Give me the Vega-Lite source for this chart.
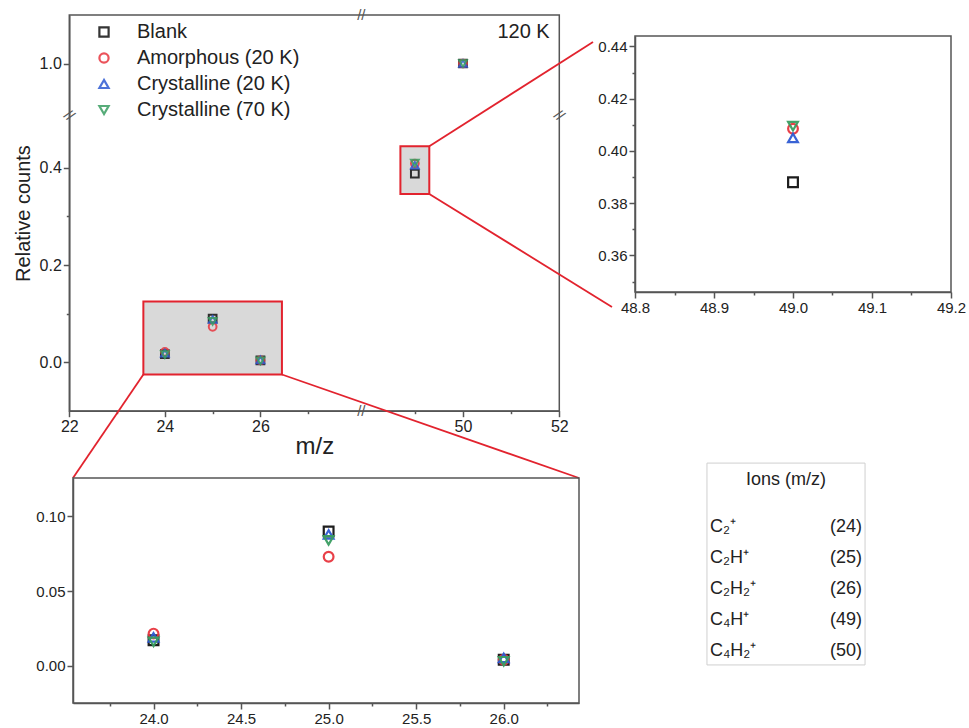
{
  "$schema": "https://vega.github.io/schema/vega-lite/v6.json",
  "width": 969,
  "height": 728,
  "autosize": "none",
  "padding": 0,
  "background": "white",
  "config": {
    "view": {"stroke": null},
    "font": "Liberation Sans",
    "axis": {
      "grid": false,
      "domainColor": "#555555",
      "domainWidth": 1.5,
      "tickColor": "#555555",
      "tickWidth": 1.5,
      "tickSize": 6,
      "labelFont": "Liberation Sans",
      "labelColor": "#222222",
      "labelFontSize": 16,
      "labelFlush": false,
      "labelOverlap": false,
      "titleFont": "Liberation Sans",
      "titleFontWeight": "normal",
      "titleColor": "#222222"
    }
  },
  "datasets": {
    "counts": [
      {"mz": 24, "series": "Blank", "count": 0.017},
      {"mz": 24, "series": "Amorphous (20 K)", "count": 0.0215},
      {"mz": 24, "series": "Crystalline (20 K)", "count": 0.019},
      {"mz": 24, "series": "Crystalline (70 K)", "count": 0.016},
      {"mz": 25, "series": "Blank", "count": 0.09},
      {"mz": 25, "series": "Amorphous (20 K)", "count": 0.073},
      {"mz": 25, "series": "Crystalline (20 K)", "count": 0.088},
      {"mz": 25, "series": "Crystalline (70 K)", "count": 0.084},
      {"mz": 26, "series": "Blank", "count": 0.004},
      {"mz": 26, "series": "Amorphous (20 K)", "count": 0.004},
      {"mz": 26, "series": "Crystalline (20 K)", "count": 0.0052},
      {"mz": 26, "series": "Crystalline (70 K)", "count": 0.003},
      {"mz": 49, "series": "Blank", "count": 0.388},
      {"mz": 49, "series": "Amorphous (20 K)", "count": 0.4085},
      {"mz": 49, "series": "Crystalline (20 K)", "count": 0.405},
      {"mz": 49, "series": "Crystalline (70 K)", "count": 0.4095},
      {"mz": 50, "series": "Blank", "count": 1.0},
      {"mz": 50, "series": "Amorphous (20 K)", "count": 1.0},
      {"mz": 50, "series": "Crystalline (20 K)", "count": 1.0},
      {"mz": 50, "series": "Crystalline (70 K)", "count": 1.0}
    ],
    "ions": [
      {"ion": "C₂⁺", "mz": "(24)", "row": 1},
      {"ion": "C₂H⁺", "mz": "(25)", "row": 2},
      {"ion": "C₂H₂⁺", "mz": "(26)", "row": 3},
      {"ion": "C₄H⁺", "mz": "(49)", "row": 4},
      {"ion": "C₄H₂⁺", "mz": "(50)", "row": 5}
    ]
  },
  "layer": [
    {
      "data": {"values": [{}]},
      "mark": {"type": "rect", "fill": "#d9d9d9", "stroke": "#e2232e", "strokeWidth": 2},
      "encoding": {
        "x": {"datum": 23.55, "type": "quantitative", "scale": {"domain": [22, 28, 48, 52], "range": [69.3, 356, 366.7, 559.3], "nice": false, "zero": false}, "axis": null},
        "x2": {"datum": 26.45},
        "y": {"datum": -0.025, "type": "quantitative", "scale": {"domain": [-0.1, 0.5, 0.9, 1.1], "range": [411, 119, 112, 15], "nice": false, "zero": false}, "axis": null},
        "y2": {"datum": 0.125}
      }
    },
    {
      "data": {"values": [{}]},
      "mark": {"type": "rect", "fill": "#d9d9d9", "stroke": "#e2232e", "strokeWidth": 2},
      "encoding": {
        "x": {"datum": 48.7, "type": "quantitative", "scale": {"domain": [22, 28, 48, 52], "range": [69.3, 356, 366.7, 559.3], "nice": false, "zero": false}, "axis": null},
        "x2": {"datum": 49.3},
        "y": {"datum": 0.346, "type": "quantitative", "scale": {"domain": [-0.1, 0.5, 0.9, 1.1], "range": [411, 119, 112, 15], "nice": false, "zero": false}, "axis": null},
        "y2": {"datum": 0.444}
      }
    },
    {
      "data": {"values": [{}]},
      "mark": {"type": "rect", "fill": "transparent", "stroke": "#555555", "strokeWidth": 1.5},
      "encoding": {
        "x": {"datum": 22, "type": "quantitative", "scale": {"domain": [22, 28, 48, 52], "range": [69.3, 356, 366.7, 559.3], "nice": false, "zero": false}, "axis": null},
        "x2": {"datum": 52},
        "y": {"datum": -0.1, "type": "quantitative", "scale": {"domain": [-0.1, 0.5, 0.9, 1.1], "range": [411, 119, 112, 15], "nice": false, "zero": false}, "axis": null},
        "y2": {"datum": 1.1}
      }
    },
    {
      "data": {"values": [
        {"from_mz": 49.3, "from_c": 0.444, "to_mz": 52.70, "to_c": 1.0443},
        {"from_mz": 49.3, "from_c": 0.346, "to_mz": 53.094, "to_c": 0.1137},
        {"from_mz": 23.55, "from_c": -0.025, "to_mz": 22.077, "to_c": -0.2377},
        {"from_mz": 26.45, "from_c": -0.025, "to_mz": 52.409, "to_c": -0.2377}
      ]},
      "mark": {"type": "rule", "color": "#e2232e", "strokeWidth": 1.8},
      "encoding": {
        "x": {"field": "from_mz", "type": "quantitative", "scale": {"domain": [22, 28, 48, 52], "range": [69.3, 356, 366.7, 559.3], "nice": false, "zero": false}, "axis": null},
        "x2": {"field": "to_mz"},
        "y": {"field": "from_c", "type": "quantitative", "scale": {"domain": [-0.1, 0.5, 0.9, 1.1], "range": [411, 119, 112, 15], "nice": false, "zero": false}, "axis": null},
        "y2": {"field": "to_c"}
      }
    },
    {
      "data": {"values": [{"bx": 38, "by": -0.1}, {"bx": 38, "by": 1.1}]},
      "mark": {"type": "text", "text": "//", "fontSize": 15, "color": "#555555", "baseline": "middle", "align": "center"},
      "encoding": {
        "x": {"field": "bx", "type": "quantitative", "scale": {"domain": [22, 28, 48, 52], "range": [69.3, 356, 366.7, 559.3], "nice": false, "zero": false}, "axis": null},
        "y": {"field": "by", "type": "quantitative", "scale": {"domain": [-0.1, 0.5, 0.9, 1.1], "range": [411, 119, 112, 15], "nice": false, "zero": false}, "axis": null}
      }
    },
    {
      "data": {"values": [{"bx": 22, "by": 0.7}, {"bx": 52, "by": 0.7}]},
      "mark": {"type": "text", "text": "//", "fontSize": 15, "color": "#555555", "baseline": "middle", "align": "center", "angle": 40},
      "encoding": {
        "x": {"field": "bx", "type": "quantitative", "scale": {"domain": [22, 28, 48, 52], "range": [69.3, 356, 366.7, 559.3], "nice": false, "zero": false}, "axis": null},
        "y": {"field": "by", "type": "quantitative", "scale": {"domain": [-0.1, 0.5, 0.9, 1.1], "range": [411, 119, 112, 15], "nice": false, "zero": false}, "axis": null}
      }
    },
    {
      "data": {"values": [{"label": "120 K"}]},
      "mark": {"type": "text", "fontSize": 20, "color": "#222222", "align": "right", "baseline": "middle"},
      "encoding": {
        "x": {"datum": 51.8, "type": "quantitative", "scale": {"domain": [22, 28, 48, 52], "range": [69.3, 356, 366.7, 559.3], "nice": false, "zero": false}, "axis": null},
        "y": {"datum": 1.065, "type": "quantitative", "scale": {"domain": [-0.1, 0.5, 0.9, 1.1], "range": [411, 119, 112, 15], "nice": false, "zero": false}, "axis": null},
        "text": {"field": "label"}
      }
    },
    {
      "data": {"name": "counts"},
      "mark": {"type": "point", "filled": false, "strokeWidth": 2, "size": 60, "opacity": 0.85},
      "encoding": {
        "x": {
          "field": "mz", "type": "quantitative",
          "scale": {"domain": [22, 28, 48, 52], "range": [69.3, 356, 366.7, 559.3], "nice": false, "zero": false},
          "axis": {
            "orient": "bottom", "offset": -317.3,
            "values": [22, 23, 24, 25, 26, 27, 49, 50, 51, 52],
            "labelExpr": "datum.value % 2 == 1 ? '' : format(datum.value, 'd')",
            "tickSize": {"condition": {"test": "datum.value % 2 == 1", "value": 3}, "value": 6},
            "title": "m/z", "titleFontSize": 24, "titlePadding": 0
          }
        },
        "y": {
          "field": "count", "type": "quantitative",
          "scale": {"domain": [-0.1, 0.5, 0.9, 1.1], "range": [411, 119, 112, 15], "nice": false, "zero": false},
          "axis": {
            "orient": "left", "offset": -69.3,
            "values": [0, 0.1, 0.2, 0.3, 0.4, 1.0],
            "labelExpr": "round(datum.value*10) % 2 != 0 ? '' : format(datum.value, '.1f')",
            "tickSize": {"condition": {"test": "round(datum.value*10) % 2 != 0", "value": 3}, "value": 6},
            "title": "Relative counts", "titleFontSize": 20, "titlePadding": 6
          }
        },
        "color": {
          "field": "series", "type": "nominal",
          "scale": {"domain": ["Blank", "Amorphous (20 K)", "Crystalline (20 K)", "Crystalline (70 K)"], "range": ["#111111", "#e8363f", "#2f5bd3", "#3a9e62"]},
          "legend": {"title": null, "orient": "none", "legendX": 94, "legendY": 22, "labelFontSize": 20, "labelLimit": 400, "labelFont": "Liberation Sans", "labelColor": "#222222", "symbolStrokeWidth": 2.2, "symbolSize": 85, "rowPadding": 6, "labelOffset": 23, "padding": 0}
        },
        "shape": {
          "field": "series", "type": "nominal",
          "scale": {"domain": ["Blank", "Amorphous (20 K)", "Crystalline (20 K)", "Crystalline (70 K)"], "range": ["square", "circle", "triangle-up", "triangle-down"]},
          "legend": {"title": null, "orient": "none", "legendX": 94, "legendY": 22, "labelFontSize": 20, "labelLimit": 400, "labelFont": "Liberation Sans", "labelColor": "#222222", "symbolStrokeWidth": 2.2, "symbolSize": 85, "rowPadding": 6, "labelOffset": 23, "padding": 0}
        }
      }
    },
    {
      "data": {"values": [{}]},
      "mark": {"type": "rect", "fill": "transparent", "stroke": "#555555", "strokeWidth": 1.5},
      "encoding": {
        "x": {"datum": 48.8, "type": "quantitative", "scale": {"domain": [48.8, 49.2], "range": [635, 951], "nice": false, "zero": false}, "axis": null},
        "x2": {"datum": 49.2},
        "y": {"datum": 0.346, "type": "quantitative", "scale": {"domain": [0.346, 0.444], "range": [292, 36], "nice": false, "zero": false}, "axis": null},
        "y2": {"datum": 0.444}
      }
    },
    {
      "data": {"name": "counts"},
      "transform": [{"filter": "datum.mz == 49"}],
      "mark": {"type": "point", "filled": false, "strokeWidth": 2.2, "size": 95, "opacity": 0.95},
      "encoding": {
        "x": {
          "field": "mz", "type": "quantitative",
          "scale": {"domain": [48.8, 49.2], "range": [635, 951], "nice": false, "zero": false},
          "axis": {
            "orient": "bottom", "offset": -436,
            "values": [48.8, 48.85, 48.9, 48.95, 49.0, 49.05, 49.1, 49.15, 49.2],
            "labelExpr": "round(datum.value*100) % 10 != 0 ? '' : format(datum.value, '.1f')",
            "tickSize": {"condition": {"test": "round(datum.value*100) % 10 != 0", "value": 3}, "value": 6},
            "labelFontSize": 15, "title": null
          }
        },
        "y": {
          "field": "count", "type": "quantitative",
          "scale": {"domain": [0.346, 0.444], "range": [292, 36], "nice": false, "zero": false},
          "axis": {
            "orient": "left", "offset": -635,
            "values": [0.35, 0.36, 0.37, 0.38, 0.39, 0.40, 0.41, 0.42, 0.43, 0.44],
            "labelExpr": "round(datum.value*100) % 2 != 0 ? '' : format(datum.value, '.2f')",
            "tickSize": {"condition": {"test": "round(datum.value*100) % 2 != 0", "value": 3}, "value": 6},
            "labelFontSize": 15, "title": null
          }
        },
        "color": {"field": "series", "type": "nominal", "scale": {"domain": ["Blank", "Amorphous (20 K)", "Crystalline (20 K)", "Crystalline (70 K)"], "range": ["#111111", "#e8363f", "#2f5bd3", "#3a9e62"]}},
        "shape": {"field": "series", "type": "nominal", "scale": {"domain": ["Blank", "Amorphous (20 K)", "Crystalline (20 K)", "Crystalline (70 K)"], "range": ["square", "circle", "triangle-up", "triangle-down"]}}
      }
    },
    {
      "data": {"values": [{}]},
      "mark": {"type": "rect", "fill": "transparent", "stroke": "#555555", "strokeWidth": 1.5},
      "encoding": {
        "x": {"datum": 23.54, "type": "quantitative", "scale": {"domain": [23.54, 26.43], "range": [73, 579], "nice": false, "zero": false}, "axis": null},
        "x2": {"datum": 26.43},
        "y": {"datum": -0.025, "type": "quantitative", "scale": {"domain": [-0.025, 0.1258], "range": [703, 478], "nice": false, "zero": false}, "axis": null},
        "y2": {"datum": 0.1258}
      }
    },
    {
      "data": {"name": "counts"},
      "transform": [{"filter": "datum.mz <= 26"}],
      "mark": {"type": "point", "filled": false, "strokeWidth": 2.2, "size": 95, "opacity": 0.95},
      "encoding": {
        "x": {
          "field": "mz", "type": "quantitative",
          "scale": {"domain": [23.54, 26.43], "range": [73, 579], "nice": false, "zero": false},
          "axis": {
            "orient": "bottom", "offset": -25,
            "values": [23.75, 24, 24.25, 24.5, 24.75, 25, 25.25, 25.5, 25.75, 26, 26.25],
            "labelExpr": "round(datum.value*4) % 2 != 0 ? '' : format(datum.value, '.1f')",
            "tickSize": {"condition": {"test": "round(datum.value*4) % 2 != 0", "value": 3}, "value": 6},
            "labelFontSize": 15, "title": null
          }
        },
        "y": {
          "field": "count", "type": "quantitative",
          "scale": {"domain": [-0.025, 0.1258], "range": [703, 478], "nice": false, "zero": false},
          "axis": {
            "orient": "left", "offset": -73,
            "values": [0, 0.05, 0.1],
            "labelExpr": "format(datum.value, '.2f')",
            "labelFontSize": 15, "title": null
          }
        },
        "color": {"field": "series", "type": "nominal", "scale": {"domain": ["Blank", "Amorphous (20 K)", "Crystalline (20 K)", "Crystalline (70 K)"], "range": ["#111111", "#e8363f", "#2f5bd3", "#3a9e62"]}},
        "shape": {"field": "series", "type": "nominal", "scale": {"domain": ["Blank", "Amorphous (20 K)", "Crystalline (20 K)", "Crystalline (70 K)"], "range": ["square", "circle", "triangle-up", "triangle-down"]}}
      }
    },
    {
      "data": {"values": [{}]},
      "mark": {"type": "rect", "fill": "white", "stroke": "#cfcfcf", "strokeWidth": 1},
      "encoding": {
        "x": {"datum": -0.02, "type": "quantitative", "scale": {"domain": [0, 1], "range": [710, 862], "nice": false, "zero": false}, "axis": null},
        "x2": {"datum": 1.02},
        "y": {"datum": -0.36, "type": "quantitative", "scale": {"domain": [0, 1, 5], "range": [480, 527, 651], "nice": false, "zero": false}, "axis": null},
        "y2": {"datum": 5.45}
      }
    },
    {
      "data": {"values": [{"head": "Ions (m/z)"}]},
      "mark": {"type": "text", "fontSize": 18, "color": "#222222", "align": "center", "baseline": "middle"},
      "encoding": {
        "x": {"datum": 0.5, "type": "quantitative", "scale": {"domain": [0, 1], "range": [710, 862], "nice": false, "zero": false}, "axis": null},
        "y": {"datum": 0, "type": "quantitative", "scale": {"domain": [0, 1, 5], "range": [480, 527, 651], "nice": false, "zero": false}, "axis": null},
        "text": {"field": "head"}
      }
    },
    {
      "data": {"name": "ions"},
      "mark": {"type": "text", "fontSize": 18, "color": "#222222", "align": "left", "baseline": "middle"},
      "encoding": {
        "x": {"datum": 0, "type": "quantitative", "scale": {"domain": [0, 1], "range": [710, 862], "nice": false, "zero": false}, "axis": null},
        "y": {"field": "row", "type": "quantitative", "scale": {"domain": [0, 1, 5], "range": [480, 527, 651], "nice": false, "zero": false}, "axis": null},
        "text": {"field": "ion"}
      }
    },
    {
      "data": {"name": "ions"},
      "mark": {"type": "text", "fontSize": 18, "color": "#222222", "align": "right", "baseline": "middle"},
      "encoding": {
        "x": {"datum": 1, "type": "quantitative", "scale": {"domain": [0, 1], "range": [710, 862], "nice": false, "zero": false}, "axis": null},
        "y": {"field": "row", "type": "quantitative", "scale": {"domain": [0, 1, 5], "range": [480, 527, 651], "nice": false, "zero": false}, "axis": null},
        "text": {"field": "mz"}
      }
    }
  ],
  "resolve": {
    "scale": {"x": "independent", "y": "independent"},
    "axis": {"x": "independent", "y": "independent"}
  }
}
